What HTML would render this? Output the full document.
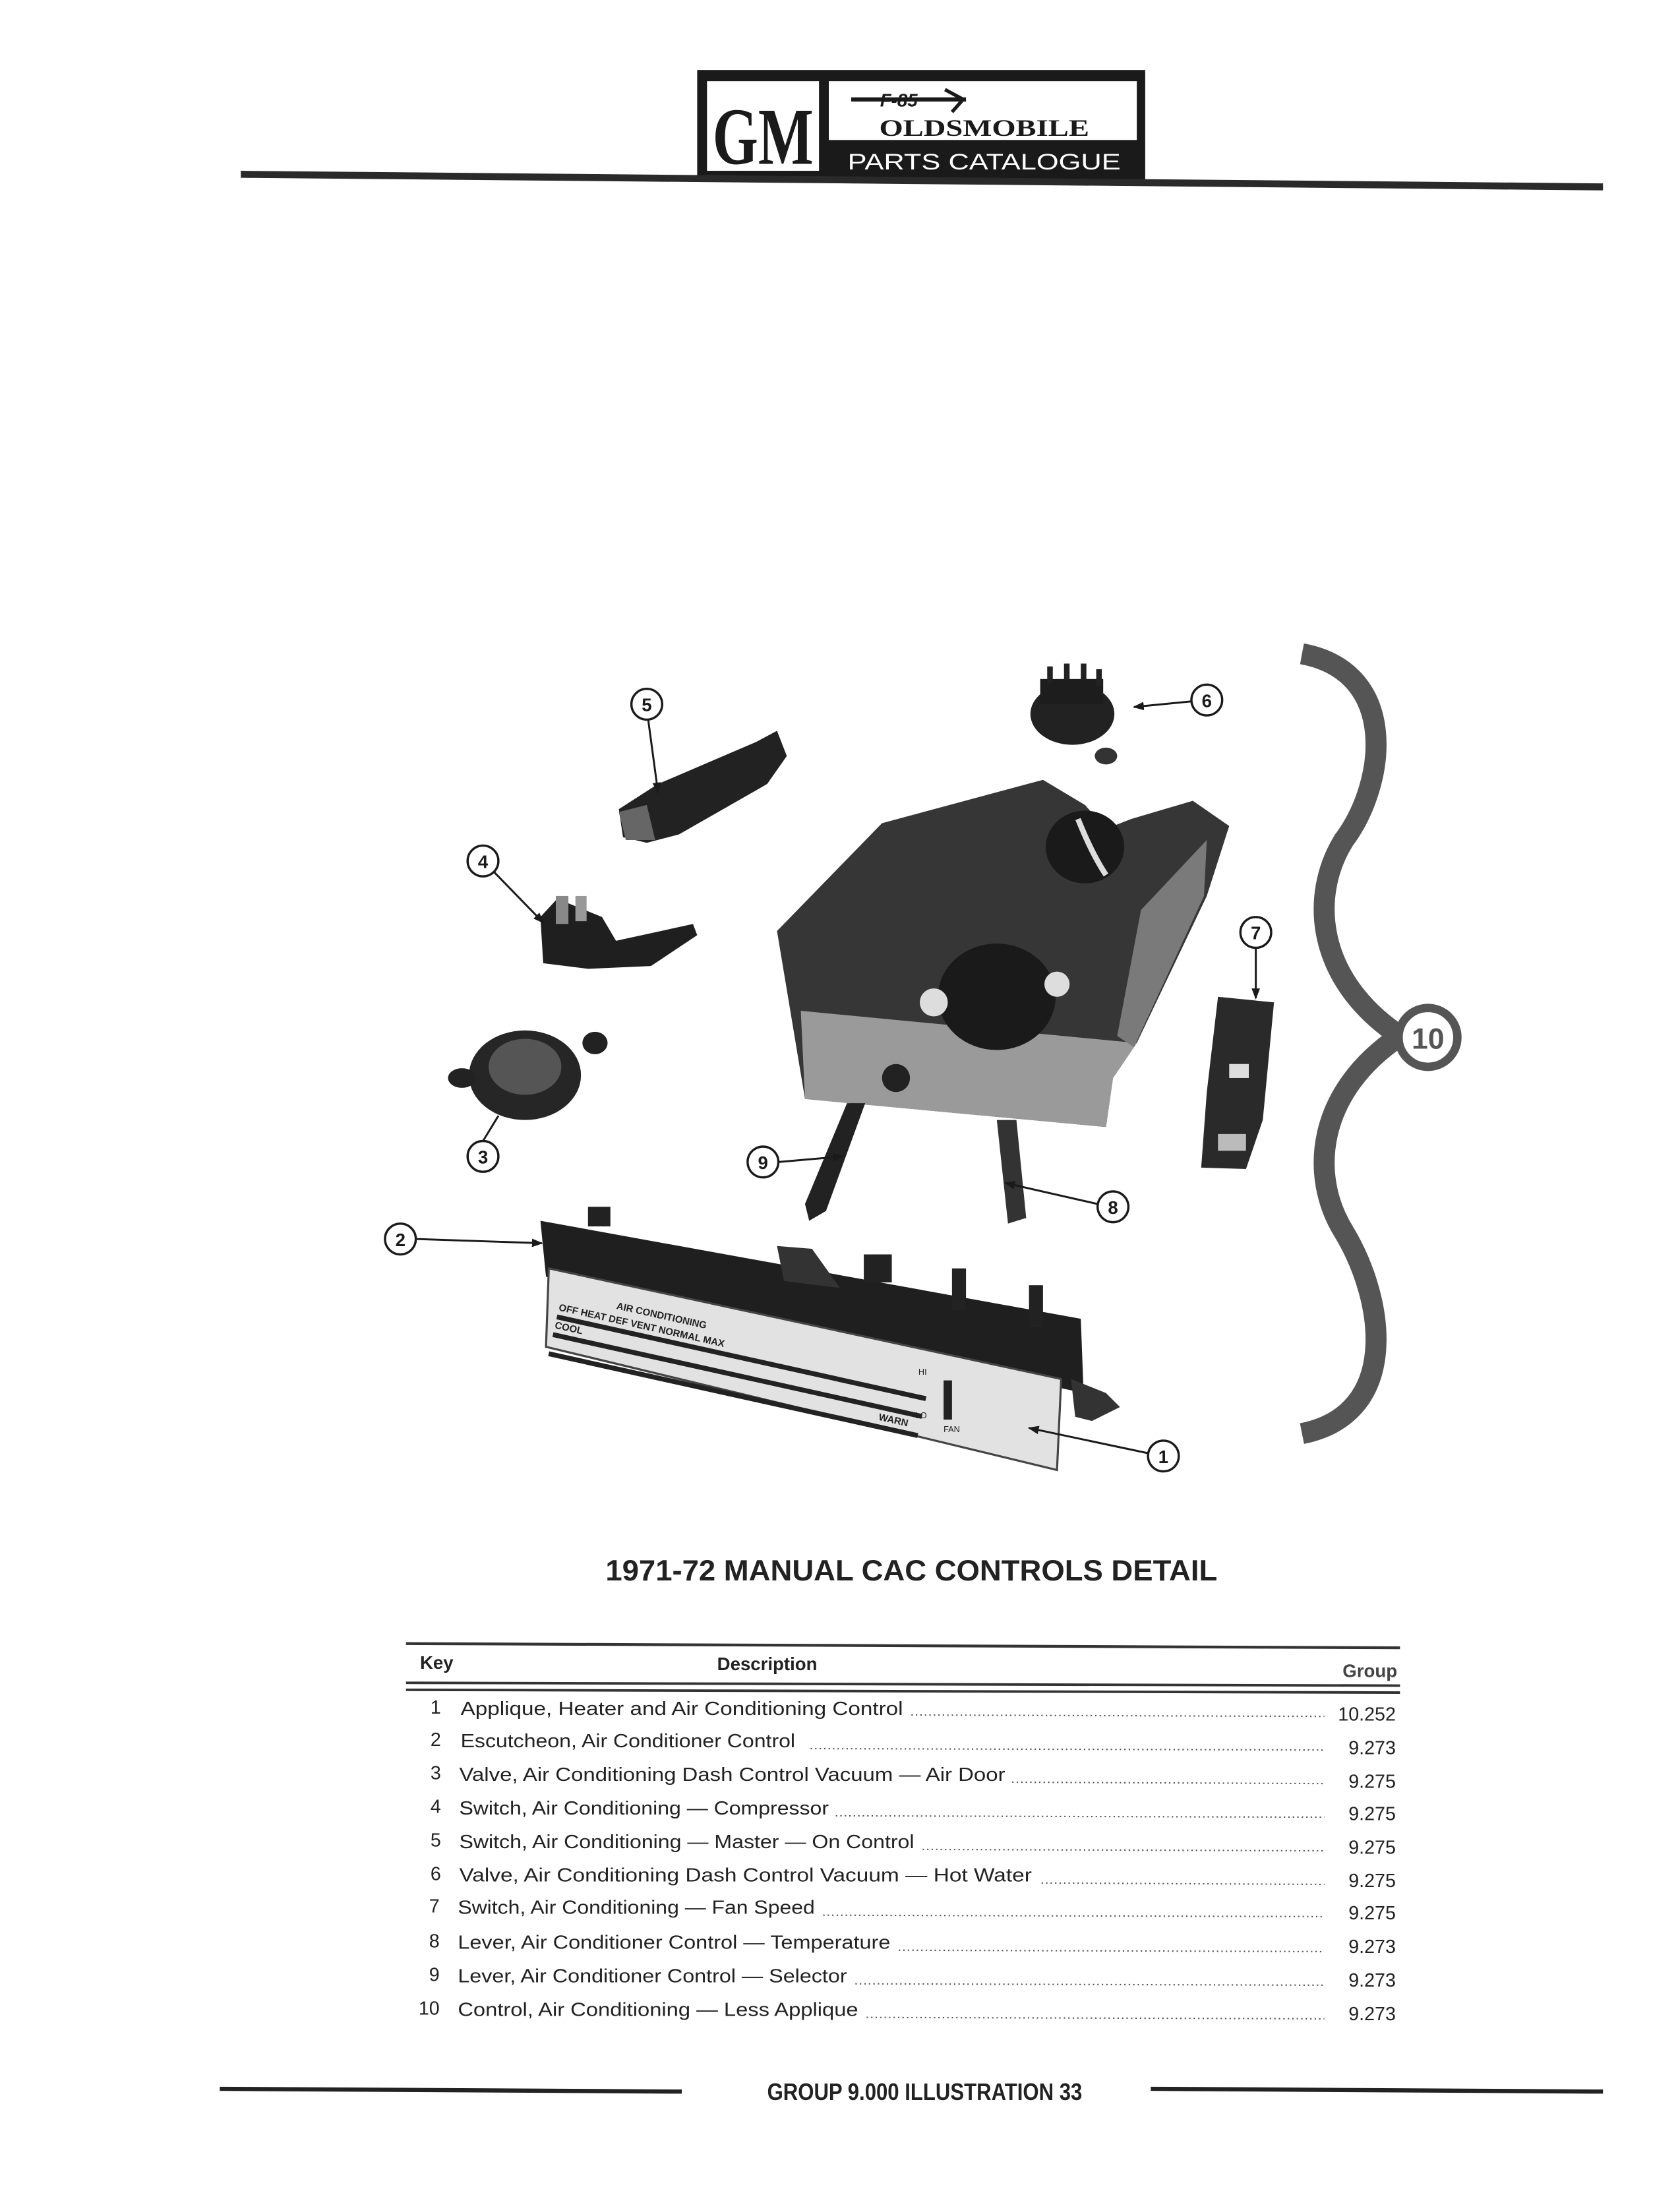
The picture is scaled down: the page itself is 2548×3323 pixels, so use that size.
<!DOCTYPE html>
<html><head><meta charset="utf-8"><style>
html,body{margin:0;padding:0;background:#fff;}
svg{display:block;}
</style></head><body>
<svg width="2548" height="3323" viewBox="0 0 1200 1565" xmlns="http://www.w3.org/2000/svg" style="font-family:'Liberation Sans',sans-serif">
<rect width="1200" height="1565" fill="#fff"/>
<!-- header -->
<rect x="498" y="50" width="320" height="80" fill="#1a1a1a"/>
<rect x="505" y="58" width="80" height="64" fill="#fff"/>
<text x="545" y="117" style="font-family:'Liberation Serif',serif" font-size="58" font-weight="bold" text-anchor="middle" fill="#1a1a1a" textLength="72" lengthAdjust="spacingAndGlyphs">GM</text>
<rect x="592" y="58" width="220" height="42" fill="#fff"/>
<line x1="608" y1="71" x2="690" y2="71" stroke="#1a1a1a" stroke-width="3"/>
<text x="642" y="76" font-size="13" font-weight="bold" font-style="italic" text-anchor="middle" fill="#1a1a1a">F-85</text>
<path d="M675,64 L688,71 L680,80" fill="none" stroke="#1a1a1a" stroke-width="2.5"/>
<text x="703" y="97" style="font-family:'Liberation Serif',serif" font-size="17" font-weight="bold" text-anchor="middle" fill="#1a1a1a" textLength="150" lengthAdjust="spacingAndGlyphs">OLDSMOBILE</text>
<text x="703" y="121" font-size="16" text-anchor="middle" fill="#fff" textLength="195" lengthAdjust="spacingAndGlyphs">PARTS CATALOGUE</text>
<polygon points="172,122 1145,131 1145,136 172,127" fill="#2a2a2a"/>

<!-- illustration -->
<g stroke="none">
<polygon points="442,578 470,560 540,530 555,522 562,540 548,560 485,596 462,602 445,598" fill="#222"/>
<polygon points="442,580 462,575 468,600 447,600" fill="#666"/>
<ellipse cx="766" cy="510" rx="30" ry="22" fill="#222"/>
<rect x="743" y="485" width="45" height="18" fill="#1d1d1d"/>
<rect x="748" y="476" width="4" height="12" fill="#222"/><rect x="760" y="474" width="4" height="12" fill="#222"/><rect x="772" y="474" width="4" height="12" fill="#222"/><rect x="783" y="478" width="4" height="12" fill="#222"/>
<ellipse cx="790" cy="540" rx="8" ry="6" fill="#333"/>
<polygon points="386,655 398,642 430,655 440,672 495,660 498,668 465,690 420,692 388,688" fill="#1f1f1f"/>
<rect x="397" y="640" width="9" height="20" fill="#888"/><rect x="411" y="640" width="8" height="18" fill="#999"/>
<ellipse cx="375" cy="768" rx="40" ry="32" fill="#262626"/>
<ellipse cx="375" cy="762" rx="26" ry="20" fill="#555"/>
<ellipse cx="330" cy="770" rx="10" ry="7" fill="#222"/><ellipse cx="425" cy="745" rx="9" ry="8" fill="#222"/>
<polygon points="870,712 910,716 902,800 890,835 858,834 862,780" fill="#2a2a2a"/>
<rect x="878" y="760" width="14" height="10" fill="#ddd"/><rect x="870" y="810" width="20" height="12" fill="#bbb"/>
<polygon points="555,665 630,588 745,557 775,575 790,592 808,585 852,572 878,590 862,640 812,745 795,770 790,805 575,785" fill="#363636"/>
<polygon points="572,722 812,745 795,770 790,805 575,785" fill="#9a9a9a"/>
<polygon points="815,650 862,600 860,640 810,748 798,740" fill="#7a7a7a"/>
<ellipse cx="712" cy="712" rx="42" ry="38" fill="#1a1a1a"/>
<circle cx="667" cy="716" r="10" fill="#ddd"/><circle cx="755" cy="703" r="9" fill="#ddd"/>
<ellipse cx="775" cy="605" rx="28" ry="26" fill="#1a1a1a"/>
<path d="M770,585 Q780,610 790,625" stroke="#ddd" stroke-width="4" fill="none"/>
<circle cx="640" cy="770" r="10" fill="#222"/>
<polygon points="605,788 618,788 590,865 578,872 575,860" fill="#222"/>
<polygon points="712,800 726,800 733,870 720,874" fill="#333"/>
<!-- escutcheon -->
<polygon points="386,872 772,942 774,995 390,912" fill="#1f1f1f"/>
<polygon points="392,906 758,985 755,1050 390,962" fill="#e2e2e2" stroke="#444" stroke-width="1.5"/>
<rect x="420" y="862" width="16" height="14" fill="#222"/><rect x="617" y="896" width="20" height="20" fill="#222"/>
<rect x="680" y="906" width="10" height="30" fill="#222"/><rect x="735" y="918" width="10" height="30" fill="#222"/>
<polygon points="555,890 580,892 600,920 560,915" fill="#333"/>
<g transform="rotate(12.5 395 930)" font-size="7" font-weight="bold" fill="#222">
<text x="440" y="925">AIR CONDITIONING</text>
<text x="400" y="935">OFF  HEAT   DEF   VENT   NORMAL   MAX</text>
<rect x="400" y="938" width="270" height="3.5" fill="#222"/>
<text x="400" y="948">COOL</text>
<rect x="400" y="951" width="270" height="3.5" fill="#222"/>
<text x="640" y="962">WARN</text>
<rect x="400" y="965" width="270" height="3.5" fill="#222"/>
</g>
<rect x="674" y="986" width="6" height="28" fill="#222"/>
<text x="656" y="982" font-size="6" fill="#222">HI</text><text x="654" y="1013" font-size="6" fill="#222">LO</text>
<text x="674" y="1023" font-size="6" fill="#222">FAN</text>
<polygon points="765,985 790,995 800,1005 780,1015 768,1012" fill="#333"/>
</g>

<!-- callouts -->
<g fill="#fff" stroke="#1a1a1a" stroke-width="1.6">
<circle cx="462" cy="503" r="11"/><circle cx="862" cy="500" r="11"/><circle cx="345" cy="615" r="11"/>
<circle cx="345" cy="826" r="11"/><circle cx="897" cy="666" r="11"/><circle cx="545" cy="830" r="11"/>
<circle cx="795" cy="862" r="11"/><circle cx="286" cy="885" r="11"/><circle cx="831" cy="1040" r="11"/>
</g>
<g font-size="13" font-weight="bold" text-anchor="middle" fill="#1a1a1a">
<text x="462" y="508">5</text><text x="862" y="505">6</text><text x="345" y="620">4</text>
<text x="345" y="831">3</text><text x="897" y="671">7</text><text x="545" y="835">9</text>
<text x="795" y="867">8</text><text x="286" y="890">2</text><text x="831" y="1045">1</text>
</g>
<defs><marker id="a" markerWidth="8" markerHeight="6" refX="7" refY="3" orient="auto" markerUnits="userSpaceOnUse"><path d="M0,0 L8,3 L0,6 z" fill="#1a1a1a"/></marker></defs>
<g stroke="#1a1a1a" stroke-width="1.4" marker-end="url(#a)">
<line x1="463" y1="514" x2="470" y2="566"/>
<line x1="851" y1="501" x2="810" y2="505"/>
<line x1="353" y1="623" x2="388" y2="659"/>
<line x1="897" y1="677" x2="897" y2="713"/>
<line x1="556" y1="830" x2="602" y2="826"/>
<line x1="784" y1="860" x2="718" y2="845"/>
<line x1="297" y1="885" x2="387" y2="888"/>
<line x1="820" y1="1038" x2="735" y2="1020"/>
</g>
<line x1="345" y1="815" x2="356" y2="797" stroke="#1a1a1a" stroke-width="1.4"/>
<path d="M930,467 C1000,480 990,560 960,600 C935,640 940,700 1000,740 C940,780 935,840 960,880 C990,930 1000,1010 930,1024" fill="none" stroke="#555" stroke-width="15"/>
<circle cx="1020" cy="741" r="21" fill="#fff" stroke="#555" stroke-width="6"/>
<text x="1020" y="749" font-size="21" font-weight="bold" text-anchor="middle" fill="#555">10</text>

<text x="651" y="1129" font-size="21" font-weight="bold" text-anchor="middle" fill="#222" textLength="437" lengthAdjust="spacingAndGlyphs">1971-72 MANUAL CAC CONTROLS DETAIL</text>

<line x1="290" y1="1174" x2="1000" y2="1177" stroke="#333" stroke-width="2"/>
<text x="300" y="1192" font-size="13" font-weight="bold" fill="#222">Key</text>
<text x="548" y="1193" font-size="13" font-weight="bold" text-anchor="middle" fill="#222">Description</text>
<text x="998" y="1198" font-size="13" font-weight="bold" text-anchor="end" fill="#444">Group</text>
<line x1="290" y1="1202" x2="1000" y2="1204" stroke="#333" stroke-width="1.8"/>
<line x1="290" y1="1207" x2="1000" y2="1209" stroke="#333" stroke-width="1.8"/>
<g font-size="13.5" fill="#222">
<text x="315" y="1224" text-anchor="end">1</text><text x="329" y="1225" textLength="316" lengthAdjust="spacingAndGlyphs">Applique, Heater and Air Conditioning Control</text><text x="997" y="1229" text-anchor="end">10.252</text>
<text x="315" y="1247" text-anchor="end">2</text><text x="329" y="1248" textLength="239" lengthAdjust="spacingAndGlyphs">Escutcheon, Air Conditioner Control</text><text x="997" y="1253" text-anchor="end">9.273</text>
<text x="315" y="1271" text-anchor="end">3</text><text x="328" y="1272" textLength="390" lengthAdjust="spacingAndGlyphs">Valve, Air Conditioning Dash Control Vacuum — Air Door</text><text x="997" y="1277" text-anchor="end">9.275</text>
<text x="315" y="1295" text-anchor="end">4</text><text x="328" y="1296" textLength="264" lengthAdjust="spacingAndGlyphs">Switch, Air Conditioning — Compressor</text><text x="997" y="1300" text-anchor="end">9.275</text>
<text x="315" y="1319" text-anchor="end">5</text><text x="328" y="1320" textLength="325" lengthAdjust="spacingAndGlyphs">Switch, Air Conditioning — Master — On Control</text><text x="997" y="1324" text-anchor="end">9.275</text>
<text x="315" y="1343" text-anchor="end">6</text><text x="328" y="1344" textLength="409" lengthAdjust="spacingAndGlyphs">Valve, Air Conditioning Dash Control Vacuum — Hot Water</text><text x="997" y="1348" text-anchor="end">9.275</text>
<text x="314" y="1366" text-anchor="end">7</text><text x="327" y="1367" textLength="255" lengthAdjust="spacingAndGlyphs">Switch, Air Conditioning — Fan Speed</text><text x="997" y="1371" text-anchor="end">9.275</text>
<text x="314" y="1391" text-anchor="end">8</text><text x="327" y="1392" textLength="309" lengthAdjust="spacingAndGlyphs">Lever, Air Conditioner Control — Temperature</text><text x="997" y="1395" text-anchor="end">9.273</text>
<text x="314" y="1415" text-anchor="end">9</text><text x="327" y="1416" textLength="278" lengthAdjust="spacingAndGlyphs">Lever, Air Conditioner Control — Selector</text><text x="997" y="1419" text-anchor="end">9.273</text>
<text x="314" y="1439" text-anchor="end">10</text><text x="327" y="1440" textLength="286" lengthAdjust="spacingAndGlyphs">Control, Air Conditioning — Less Applique</text><text x="997" y="1443" text-anchor="end">9.273</text>
</g>
<g stroke="#555" stroke-width="1" stroke-dasharray="1 2.2">
<line x1="651" y1="1225" x2="946" y2="1226"/>
<line x1="579" y1="1249" x2="946" y2="1250"/>
<line x1="723" y1="1273" x2="946" y2="1274"/>
<line x1="597" y1="1297" x2="946" y2="1298"/>
<line x1="659" y1="1321" x2="946" y2="1322"/>
<line x1="744" y1="1345" x2="946" y2="1346"/>
<line x1="588" y1="1368" x2="946" y2="1369"/>
<line x1="642" y1="1393" x2="946" y2="1394"/>
<line x1="611" y1="1417" x2="946" y2="1418"/>
<line x1="619" y1="1441" x2="946" y2="1442"/>
</g>

<line x1="157" y1="1492" x2="487" y2="1494" stroke="#222" stroke-width="3"/>
<line x1="822" y1="1492" x2="1145" y2="1494" stroke="#222" stroke-width="3"/>
<text x="548" y="1500" font-size="17" font-weight="bold" fill="#222" textLength="225" lengthAdjust="spacingAndGlyphs">GROUP 9.000 ILLUSTRATION 33</text>
</svg>
</body></html>
